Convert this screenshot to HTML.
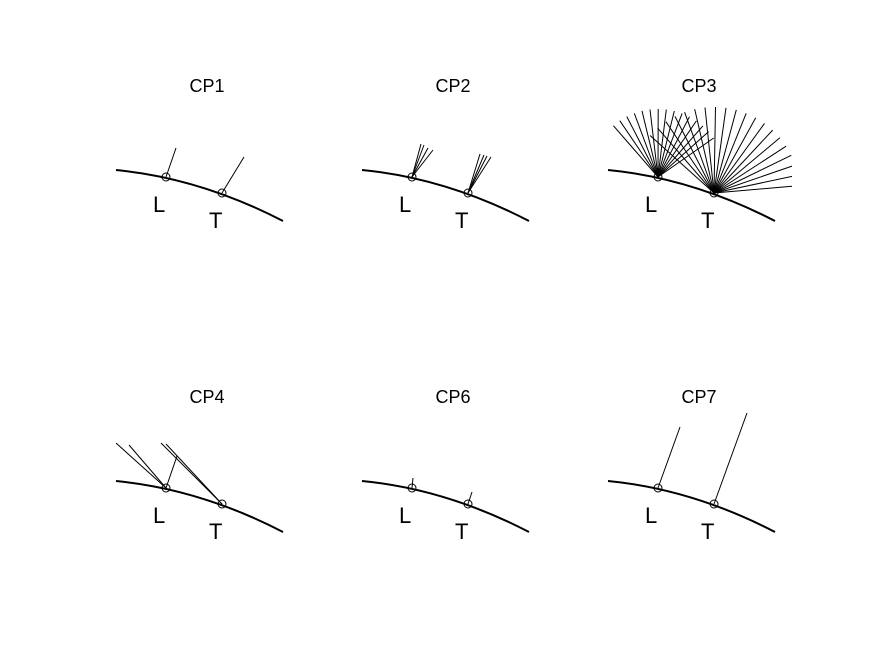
<!DOCTYPE html>
<html><head><meta charset="utf-8"><style>
html,body{margin:0;padding:0;background:#fff;}
svg{display:block}
text{font-family:"Liberation Sans",Arial,sans-serif;fill:#000;stroke:none}
</style></head><body>
<svg id="s" width="875" height="656" viewBox="0 0 875 656" xmlns="http://www.w3.org/2000/svg">
<rect width="875" height="656" fill="#fff"/>
<defs>
<g id="base">
<path d="M116,170 Q200,178 283,221" fill="none" stroke="#000" stroke-width="2"/>
<circle cx="166" cy="177" r="4" fill="none" stroke="#000" stroke-width="1"/>
<circle cx="222" cy="193" r="4" fill="none" stroke="#000" stroke-width="1"/>
<text x="153" y="212" font-size="22" stroke="none">L</text>
<text x="209" y="228" font-size="22" stroke="none">T</text>
</g>
</defs>
<g stroke="#000" stroke-width="1" fill="none">
<use href="#base"/>
<line x1="166" y1="177" x2="176" y2="148"/>
<line x1="222" y1="193" x2="244" y2="157"/>
<use href="#base" x="246"/>
<line x1="412" y1="177" x2="421" y2="144"/>
<line x1="412" y1="177" x2="424" y2="145"/>
<line x1="412" y1="177" x2="428" y2="148"/>
<line x1="412" y1="177" x2="433" y2="150"/>
<line x1="468" y1="193" x2="480" y2="154"/>
<line x1="468" y1="193" x2="484" y2="155"/>
<line x1="468" y1="193" x2="487" y2="156"/>
<line x1="468" y1="193" x2="491" y2="157"/>
<use href="#base" x="492"/>
<g id="fans"></g>
<use href="#base" y="311"/>
<line x1="166" y1="488" x2="116" y2="443"/>
<line x1="166" y1="488" x2="129" y2="445"/>
<line x1="166" y1="488" x2="177" y2="456"/>
<line x1="222" y1="504" x2="161" y2="443"/>
<line x1="222" y1="504" x2="166" y2="444"/>
<use href="#base" x="246" y="311"/>
<line x1="412" y1="488" x2="413" y2="478"/>
<line x1="468" y1="504" x2="472" y2="492"/>
<use href="#base" x="492" y="311"/>
<line x1="658" y1="488" x2="680" y2="427"/>
<line x1="714" y1="504" x2="747" y2="413"/>
</g>
<text x="207" y="92" font-size="18" text-anchor="middle">CP1</text>
<text x="453" y="92" font-size="18" text-anchor="middle">CP2</text>
<text x="699" y="92" font-size="18" text-anchor="middle">CP3</text>
<text x="207" y="403" font-size="18" text-anchor="middle">CP4</text>
<text x="453" y="403" font-size="18" text-anchor="middle">CP6</text>
<text x="699" y="403" font-size="18" text-anchor="middle">CP7</text>
</svg>
<script>
(function(){
var g=document.getElementById('fans'),h='';
function fan(cx,cy,a0,a1,n,r,xmax){
 for(var i=0;i<n;i++){
  var a=(a0+(a1-a0)*i/(n-1))*Math.PI/180;
  var dx=Math.cos(a)*r,dy=-Math.sin(a)*r;
  var x2=cx+dx,y2=cy+dy;
  if(x2>xmax){var t=(xmax-cx)/dx;x2=xmax;y2=cy+dy*t;}
  h+='<line x1="'+cx+'" y1="'+cy+'" x2="'+x2.toFixed(1)+'" y2="'+y2.toFixed(1)+'"/>';
 }
}
fan(658,177,131,35,15,68,792);
fan(714,193,138,5,20,86,792);
g.innerHTML=h;
})();
</script>
</body></html>
